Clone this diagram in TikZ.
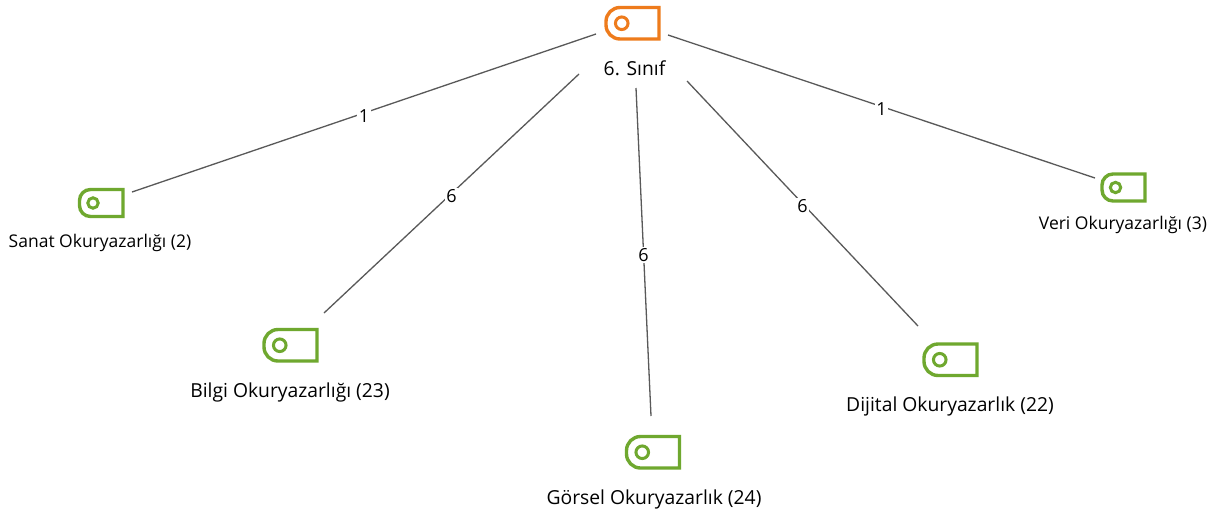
\documentclass[tikz,border=0pt]{standalone}
\usepackage{fontspec}
\setmainfont{Open Sans}
\definecolor{tagorange}{HTML}{EE7B1C}
\definecolor{taggreen}{HTML}{6FA82F}
\definecolor{connector}{HTML}{595959}
\tikzset{
  conn/.style={draw=connector,line width=1.3pt},
  connlabel/.style={fill=white,inner sep=1.5pt,font=\fontsize{18}{20}\selectfont,text=black,yshift=-3pt},
  smalllabel/.style={font=\fontsize{17.5}{20}\selectfont,text=black,inner sep=0pt},
  biglabel/.style={font=\fontsize{19.3}{22}\selectfont,text=black,inner sep=0pt},
  tagframe/.style={line width=3.4pt,line join=miter,fill=none},
}
% name, left, top, right, bottom, corner radius, hole radius, colour
\newcommand{\tagicon}[8]{%
  \node[inner sep=0pt,minimum width=#4pt-#2pt,minimum height=#5pt-#3pt] (#1) at ({(#2+#4)/2},{(#3+#5)/2}) {};
  \draw[tagframe,draw=#8] (#2+#6,#3) -- (#4,#3) -- (#4,#5) -- (#2+#6,#5)
    arc[start angle=90,end angle=180,radius=#6] -- (#2,#3+#6)
    arc[start angle=180,end angle=270,radius=#6] -- cycle;
  \draw[draw=#8,line width=3pt] ({#2+(#5-#3)/2},{(#3+#5)/2}) circle[radius=#7];
}
\begin{document}
\begin{tikzpicture}[x=1pt,y=-1pt]
\useasboundingbox (0,0) rectangle (1217,515);
\fill[white] (0,0) rectangle (1217,515);

\tagicon{root}{606}{7.5}{659}{39}{14}{6.3}{tagorange}
\tagicon{sanat}{79.5}{189.5}{123}{216.5}{11}{5.2}{taggreen}
\tagicon{veri}{1102}{174}{1145}{201}{11}{5.2}{taggreen}
\tagicon{bilgi}{264}{329.5}{317}{361}{14}{6.3}{taggreen}
\tagicon{gorsel}{626.5}{436.5}{679.5}{468}{14}{6.3}{taggreen}
\tagicon{dijital}{924}{344}{977}{375.5}{14}{6.3}{taggreen}

\node[biglabel] (rootlabel) at (634.5,68) {6. Sınıf};
\node[smalllabel] (sanatlabel) at (100,243) {Sanat Okuryazarlığı (2)};
\node[smalllabel] (verilabel) at (1123,225) {Veri Okuryazarlığı (3)};
\node[biglabel] (bilgilabel) at (290,392) {Bilgi Okuryazarlığı (23)};
\node[biglabel] (gorsellabel) at (654,499) {Görsel Okuryazarlık (24)};
\node[biglabel] (dijitallabel) at (950,406) {Dijital Okuryazarlık (22)};

\coordinate (rootA) at (596,34);
\coordinate (rootB) at (579,74);
\coordinate (rootC) at (636,88);
\coordinate (rootD) at (687,81);
\coordinate (rootE) at (668,35);
\coordinate (sanatEnd) at (132,192);
\coordinate (bilgiEnd) at (324,313);
\coordinate (gorselEnd) at (651,416);
\coordinate (dijitalEnd) at (918,326);
\coordinate (veriEnd) at (1095,178);

\draw[conn] (rootA) -- node[connlabel] (l1) {1} (sanatEnd);
\draw[conn] (rootB) -- node[connlabel] (l2) {6} (bilgiEnd);
\draw[conn] (rootC) -- node[connlabel] (l3) {6} (gorselEnd);
\draw[conn] (rootD) -- node[connlabel] (l4) {6} (dijitalEnd);
\draw[conn] (rootE) -- node[connlabel] (l5) {1} (veriEnd);
\end{tikzpicture}
\end{document}
